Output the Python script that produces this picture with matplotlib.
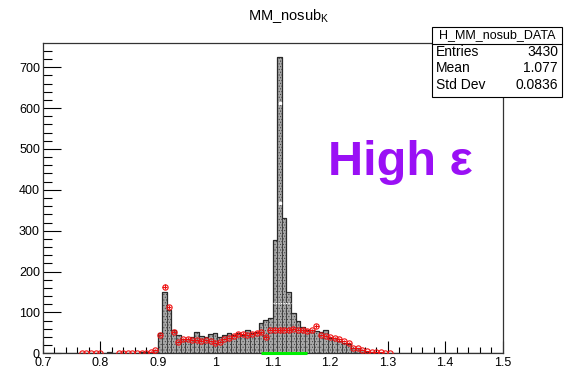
import numpy as np
import matplotlib
matplotlib.use("Agg")
import matplotlib.pyplot as plt
from matplotlib.patches import Rectangle
from matplotlib.lines import Line2D

plt.rcParams['font.family'] = ['Liberation Sans', 'DejaVu Sans']
plt.rcParams['hatch.linewidth'] = 0.4

# ---------------- data ----------------
x_min, x_max, n_bins = 0.7, 1.5, 100
# gray histogram counts (bins of 0.008 from 0.7)
hist_counts = [0]*14 + [2, 0, 1, 1, 1, 1, 1, 2, 3, 4, 8,
               50, 149, 105, 57, 45, 35, 35,
               40, 53, 42, 40, 48, 50, 41, 45, 49, 44, 50, 45, 57, 49, 53,
               73, 81, 86, 277, 724, 332, 151,
               98, 78, 65, 57, 57, 55,
               52, 57, 37, 37, 30, 25, 22, 14, 13, 8, 3, 2, 1, 1]
hist_counts = hist_counts + [0]*(n_bins - len(hist_counts))

# red points (same binning)
red_counts = [0]*8 + [1, 1, 1, 1, 1, 0, 0, 0, 1, 1, 1, 1, 1, 1, 1, 4, 9,
              45, 163, 114, 53, 28, 34, 36,
              33, 32, 31, 33, 30, 26, 27, 35, 38, 43, 48, 48, 45, 48, 50,
              52, 41, 58, 58, 57, 58, 57, 60, 58, 57, 55, 56, 67,
              45, 42, 40, 38, 34, 30, 24, 14, 12, 9, 5, 3, 3, 2, 1, 1]
red_counts = red_counts + [0]*(n_bins - len(red_counts))

white_points_x = [1.112, 1.112]
white_points_y = [612, 368]
white_line_x = [1.100, 1.132]
white_line_y = 123

green_range = [1.08, 1.16]

title_main = "MM_nosub"
title_sub = "K"
stats_name = "H_MM_nosub_DATA"
stats_labels = ["Entries", "Mean", "Std Dev"]
stats_values = ["3430", "1.077", "0.0836"]
overlay_text = "High ε"

x_ticks = [0.7, 0.8, 0.9, 1.0, 1.1, 1.2, 1.3, 1.4, 1.5]
y_ticks = [0, 100, 200, 300, 400, 500, 600, 700]

# ---------------- figure ----------------
W, H = 577, 379
fig = plt.figure(figsize=(W/100, H/100), dpi=100)
ax_l, ax_r, ax_t, ax_b = 42.7, 502.7, 42.7, 353.3
ax = fig.add_axes([ax_l/W, 1-ax_b/H, (ax_r-ax_l)/W, (ax_b-ax_t)/H])

edges = np.linspace(x_min, x_max, n_bins+1)
centers = 0.5*(edges[:-1]+edges[1:])
width = edges[1]-edges[0]
hc = np.array(hist_counts, dtype=float)
rc = np.array(red_counts, dtype=float)

ax.bar(centers, hc, width=width, facecolor='#a8a8a8', edgecolor='#3a3a3a',
       linewidth=0.6, hatch='......', zorder=2)
ax.stairs(hc, edges, color='#2a2a2a', linewidth=0.9, zorder=3)

mask = rc > 0
ax.errorbar(centers[mask], rc[mask], xerr=width/2, yerr=0.5*np.sqrt(rc[mask]),
            fmt='o', ms=3.8, mfc='none', mec='#ee1111', mew=0.8,
            ecolor='#ee1111', elinewidth=0.8, capsize=0, zorder=4)

ax.plot(white_points_x, white_points_y, 's', ms=1.5, color='white', zorder=5)
ax.plot(white_line_x, [white_line_y]*2, color='white', lw=0.9, ls=(0, (1, 1)), zorder=5)
ax.plot(green_range, [0.5, 0.5], color='#00ee00', lw=2.2, zorder=6, clip_on=False,
        solid_capstyle='butt')

ax.set_xlim(x_min, x_max)
ax.set_ylim(0, 760)
ax.set_xticks(x_ticks)
ax.set_xticklabels([f"{v:g}" for v in x_ticks])
ax.set_yticks(y_ticks)
ax.set_yticklabels([f"{v:g}" for v in y_ticks])
ax.set_xticks(np.arange(0.7, 1.5001, 0.02), minor=True)
ax.set_yticks(np.arange(0, 760, 20), minor=True)
ax.tick_params(axis='both', which='both', direction='in', top=False, right=False,
               labelsize=9, colors='black', width=0.8)
ax.tick_params(axis='x', which='major', length=9, pad=3)
ax.tick_params(axis='x', which='minor', length=4.5)
ax.tick_params(axis='y', which='major', length=13, pad=2)
ax.tick_params(axis='y', which='minor', length=6.5)
for s in ax.spines.values():
    s.set_linewidth(0.9)
    s.set_color('#333333')

# title
fig.text(289/W, 1-16/H, title_main + r"$_{\mathregular{" + title_sub + "}}$",
         ha='center', va='center', fontsize=10.5)

# overlay text
ax.text(1.322, 466, overlay_text, color='#9a10f5', fontsize=35, fontweight='bold',
        ha='center', va='center', zorder=7)

# stats box
bx0, bx1, by0, by1, bsep = 432, 562, 27, 97, 44
fig.patches.append(Rectangle((bx0/W, 1-by1/H), (bx1-bx0)/W, (by1-by0)/H,
                             transform=fig.transFigure, facecolor='white',
                             edgecolor='black', linewidth=0.8, zorder=10))
fig.lines.append(Line2D([bx0/W, bx1/W], [1-bsep/H, 1-bsep/H], transform=fig.transFigure,
                        color='black', linewidth=0.8, zorder=11))
fig.text((bx0+bx1)/2/W, 1-35.5/H, stats_name, ha='center', va='center', fontsize=9, zorder=12)
row_y = [52, 68.5, 85]
for lab, val, yy in zip(stats_labels, stats_values, row_y):
    fig.text((bx0+4)/W, 1-yy/H, lab, ha='left', va='center', fontsize=10, zorder=12)
    fig.text((bx1-4)/W, 1-yy/H, val, ha='right', va='center', fontsize=10, zorder=12)

fig.savefig("out.png", dpi=100, facecolor='white')
